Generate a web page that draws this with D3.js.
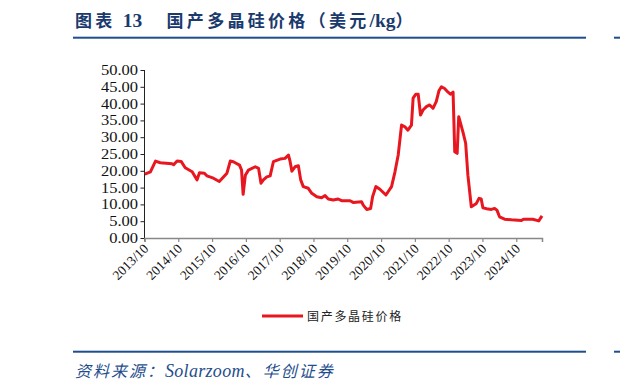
<!DOCTYPE html>
<html>
<head>
<meta charset="utf-8">
<script src="https://cdn.jsdelivr.net/npm/d3@7"></script>
<style>
  body { margin: 0; background: #fff; }
  svg { display: block; }
</style>
</head>
<body>
<div id="chart"></div>
<script>
// price of domestic polysilicon, USD/kg
const dates = [
  "2013-10-04", "2013-12-04", "2014-01-28", "2014-03-20", "2014-07-25", "2014-08-12",
  "2014-09-18", "2014-11-01", "2014-12-15", "2015-02-28", "2015-04-22", "2015-05-18",
  "2015-07-10", "2015-08-06", "2015-10-16", "2015-12-18", "2016-03-10", "2016-04-15",
  "2016-05-18", "2016-07-24", "2016-08-15", "2016-09-01", "2016-09-25", "2016-10-28",
  "2017-01-10", "2017-02-15", "2017-03-13", "2017-04-08", "2017-05-15", "2017-06-20",
  "2017-07-25", "2017-09-06", "2017-10-06", "2017-11-28", "2018-01-04", "2018-01-22",
  "2018-02-10", "2018-03-16", "2018-04-21", "2018-05-16", "2018-06-13", "2018-08-06",
  "2018-09-13", "2018-11-06", "2018-12-28", "2019-02-03", "2019-03-10", "2019-05-03",
  "2019-06-25", "2019-08-01", "2019-11-01", "2019-12-04", "2020-03-04", "2020-03-22",
  "2020-04-28", "2020-06-10", "2020-07-01", "2020-08-06", "2020-09-18", "2020-11-22",
  "2021-01-22", "2021-02-28", "2021-04-04", "2021-05-10", "2021-06-15", "2021-07-18",
  "2021-08-25", "2021-09-12", "2021-10-12", "2021-11-06", "2021-12-01", "2021-12-28",
  "2022-02-03", "2022-03-10", "2022-04-15", "2022-05-20", "2022-06-18", "2022-07-15",
  "2022-08-18", "2022-09-25", "2022-10-20", "2022-11-18", "2022-12-06", "2023-01-01",
  "2023-01-18", "2023-03-04", "2023-04-03", "2023-04-27", "2023-06-03", "2023-07-28",
  "2023-08-25", "2023-09-18", "2023-10-06", "2023-12-01", "2024-01-06", "2024-02-10",
  "2024-03-06", "2024-04-03", "2024-05-28", "2024-08-10", "2024-11-25", "2024-12-18",
  "2025-03-28", "2025-06-01", "2025-07-06"
];
const prices = [
  19.0, 19.7, 22.9, 22.4, 22.1, 21.8,
  22.9, 22.8, 20.9, 19.7, 17.3, 19.4,
  19.3, 18.5, 17.8, 16.8, 19.3, 22.9,
  22.7, 21.7, 20.2, 13.0, 18.7, 20.2,
  21.2, 20.7, 16.3, 17.3, 18.2, 18.5,
  22.7, 23.2, 23.5, 23.7, 24.7, 22.7,
  19.9, 21.2, 21.5, 17.3, 15.3, 14.8,
  13.3, 12.3, 12.0, 12.6, 11.6, 11.3,
  11.6, 11.1, 11.1, 10.6, 10.8, 9.8,
  8.5, 8.8, 12.3, 15.3, 14.5, 12.8,
  15.3, 19.7, 24.7, 33.6, 33.1, 32.1,
  33.6, 41.6, 42.8, 42.8, 36.6, 38.1,
  39.1, 39.6, 38.6, 40.6, 43.8, 45.0,
  44.5, 43.4, 42.8, 43.4, 25.7, 25.2,
  36.1, 31.6, 28.2, 18.7, 9.3, 10.3,
  11.8, 11.6, 9.0, 8.6, 8.5, 8.8,
  8.3, 6.3, 5.6, 5.4, 5.2, 5.6,
  5.6, 5.1, 6.6
];
const yTicks = [0, 5, 10, 15, 20, 25, 30, 35, 40, 45, 50];
const xTickLabels = ["2013/10", "2014/10", "2015/10", "2016/10", "2017/10", "2018/10",
  "2019/10", "2020/10", "2021/10", "2022/10", "2023/10", "2024/10"];
// title pieces: [text, latin?]
const titleParts = [["图表 ", false], ["13", true], ["　国产多晶硅价格（美元", false], ["/kg", true], ["）", false]];
const seriesName = "国产多晶硅价格";
const sourceParts = [["资料来源：", false], ["Solarzoom", true], ["、华创证券", false]];

const width = 620;
const height = 392;
const red = "#e8161f";
const blue = "#1f4e8c";
const serif = "'Liberation Serif', 'Times New Roman', serif";
const cjk = "'Noto Sans CJK SC', sans-serif";

const parseDay = d3.timeParse("%Y-%m-%d");
const parseTick = d3.timeParse("%Y/%m");
const points = dates.map((d, i) => ({ date: parseDay(d), value: prices[i] }));

const svg = d3.select("#chart").append("svg")
  .attr("width", width)
  .attr("height", height);

// header
const title = svg.append("text")
  .attr("x", 75)
  .attr("y", 27)
  .attr("fill", "#1a3a6e")
  .attr("font-weight", "bold");
title.selectAll("tspan")
  .data(titleParts)
  .enter()
  .append("tspan")
  .attr("font-family", d => d[1] ? serif : cjk)
  .attr("font-size", d => d[1] ? 19.5 : 17)
  .attr("letter-spacing", d => d[1] ? 0 : 3.3)
  .attr("dx", (d, i) => i === 2 ? 4 : 0)
  .text(d => d[0]);
svg.append("rect").attr("x", 73).attr("y", 36.7).attr("width", 513).attr("height", 2).attr("fill", blue);
// edge of the next panel
svg.append("rect").attr("x", 614).attr("y", 36.7).attr("width", 6).attr("height", 2).attr("fill", blue);
svg.append("rect").attr("x", 614).attr("y", 350.7).attr("width", 6).attr("height", 2).attr("fill", blue);

const x = d3.scaleTime()
  .domain([parseDay("2013-10-01"), parseDay("2025-07-06")])
  .range([144.5, 542]);
const y = d3.scaleLinear()
  .domain([0, 50])
  .range([238, 70]);

// y axis
const yAxis = svg.append("g")
  .attr("transform", "translate(144.5,0)")
  .call(d3.axisLeft(y).tickValues(yTicks).tickSize(4).tickPadding(3).tickFormat(d3.format(".2f")));
yAxis.select(".domain").attr("stroke", "#222").attr("d", "M0,70V241");
yAxis.selectAll(".tick line").attr("stroke", "#222");
yAxis.selectAll(".tick text")
  .attr("font-family", serif)
  .attr("font-size", 14)
  .attr("fill", "#111")
  .attr("x", -5.5)
  .attr("transform", "scale(1.18,1)");

// x axis
const xAxis = svg.append("g")
  .attr("transform", "translate(0,238)")
  .call(d3.axisBottom(x)
    .tickValues(xTickLabels.map(parseTick))
    .tickSize(4)
    .tickFormat(d3.timeFormat("%Y/%m")));
xAxis.select(".domain").attr("stroke", "#888").attr("stroke-width", 1.5);
xAxis.selectAll(".tick line").attr("stroke", "#888").attr("stroke-width", 1.2);
xAxis.selectAll(".tick text")
  .attr("font-family", serif)
  .attr("font-size", 13.5)
  .attr("fill", "#111")
  .attr("text-anchor", "end")
  .attr("transform", "translate(1,8) rotate(-45)")
  .attr("dy", "0.35em")
  .attr("y", 0)
  .attr("x", 0);

// series
const line = d3.line()
  .x(d => x(d.date))
  .y(d => y(d.value));
svg.append("path")
  .datum(points)
  .attr("fill", "none")
  .attr("stroke", red)
  .attr("stroke-width", 3)
  .attr("stroke-linejoin", "round")
  .attr("d", line);

// legend
svg.append("line")
  .attr("x1", 262).attr("x2", 303)
  .attr("y1", 316).attr("y2", 316)
  .attr("stroke", red).attr("stroke-width", 3);
svg.append("text")
  .attr("x", 307)
  .attr("y", 320.5)
  .attr("font-family", cjk)
  .attr("font-size", 12)
  .attr("letter-spacing", 1.7)
  .attr("fill", "#222")
  .text(seriesName);

// footer
svg.append("rect").attr("x", 73).attr("y", 350.7).attr("width", 513).attr("height", 2).attr("fill", blue);
const source = svg.append("text")
  .attr("x", 75)
  .attr("y", 377)
  .attr("fill", blue)
  .attr("font-style", "italic");
source.selectAll("tspan")
  .data(sourceParts)
  .enter()
  .append("tspan")
  .attr("font-family", d => d[1] ? serif : cjk)
  .attr("font-size", d => d[1] ? 18 : 16)
  .attr("letter-spacing", d => d[1] ? 0.3 : 2)
  .text(d => d[0]);
</script>
</body>
</html>
